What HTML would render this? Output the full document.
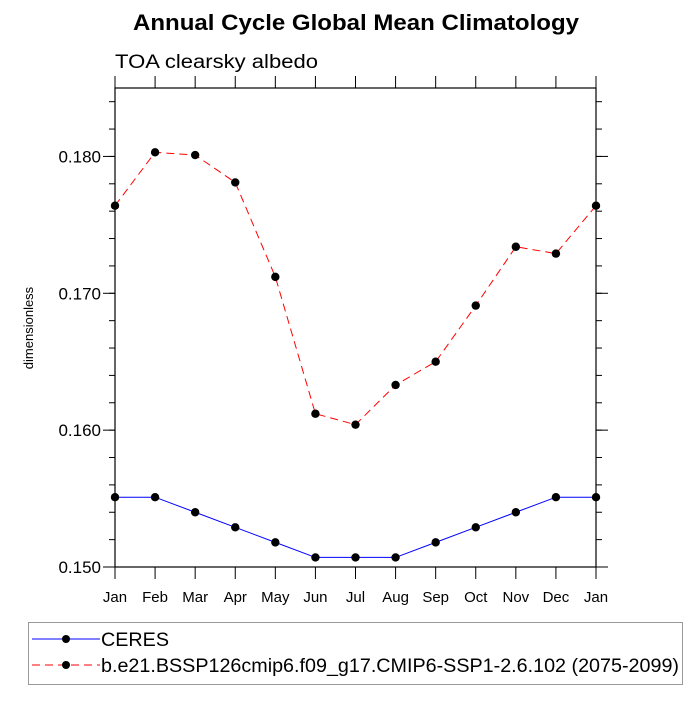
<!DOCTYPE html>
<html><head><meta charset="utf-8"><style>
body{margin:0;background:#fff;width:700px;height:700px;overflow:hidden}
svg{font-family:"Liberation Sans",sans-serif}
</style></head><body>
<svg id="chart" width="700" height="700" xmlns="http://www.w3.org/2000/svg">
<text x="133" y="30" font-size="22" font-weight="bold" textLength="446" lengthAdjust="spacingAndGlyphs">Annual Cycle Global Mean Climatology</text>
<text x="115" y="68" font-size="19" textLength="203" lengthAdjust="spacingAndGlyphs">TOA clearsky albedo</text>
<text transform="translate(33,328) rotate(-90)" text-anchor="middle" font-size="13">dimensionless</text>
<g id="axes"></g>
<g id="series"></g>
<g>
<rect x="28.5" y="622.5" width="654" height="62" fill="none" stroke="#999"/>
<line x1="32" y1="639" x2="100" y2="639" stroke="#0000ff" stroke-width="1"/>
<circle cx="66" cy="639" r="4" fill="#000"/>
<text x="101" y="646" font-size="19" textLength="68" lengthAdjust="spacingAndGlyphs">CERES</text>
<line x1="32" y1="665" x2="100" y2="665" stroke="#ff0000" stroke-width="1" stroke-dasharray="8,5"/>
<circle cx="66" cy="665" r="4" fill="#000"/>
<text x="101" y="672" font-size="19" textLength="578" lengthAdjust="spacingAndGlyphs">b.e21.BSSP126cmip6.f09_g17.CMIP6-SSP1-2.6.102 (2075-2099)</text>
</g>
</svg>
<script>
const months = ["Jan","Feb","Mar","Apr","May","Jun","Jul","Aug","Sep","Oct","Nov","Dec","Jan"];
const ceresValues = [0.1551,0.1551,0.1540,0.1529,0.1518,0.1507,0.1507,0.1507,0.1518,0.1529,0.1540,0.1551,0.1551];
const modelValues = [0.1764,0.1803,0.1801,0.1781,0.1712,0.1612,0.1604,0.1633,0.1650,0.1691,0.1734,0.1729,0.1764];
const yTicks = [0.150,0.160,0.170,0.180];
const yTickLabels = ["0.150","0.160","0.170","0.180"];
const yMin = 0.150, yMax = 0.185;
const L=115,R=596,T=88,B=567;
const NS="http://www.w3.org/2000/svg";
const xs=i=>L+(R-L)*i/(months.length-1);
const ys=v=>B-(B-T)*(v-yMin)/(yMax-yMin);
function mk(tag,attrs,parent){const e=document.createElementNS(NS,tag);for(const k in attrs)e.setAttribute(k,attrs[k]);parent.appendChild(e);return e;}
const ax=document.getElementById('axes');
const frame=mk('rect',{x:L,y:T,width:R-L,height:B-T,fill:'none',stroke:'#000','stroke-width':1.2},ax);


months.forEach((m,i)=>{
  const x=xs(i);
  mk('line',{x1:x,y1:B,x2:x,y2:B+12,stroke:'#000'},ax);
  mk('line',{x1:x,y1:T,x2:x,y2:T-12,stroke:'#000'},ax);
  const t=mk('text',{x:x,y:B+35,'text-anchor':'middle','font-size':15},ax);
  t.textContent=m;
  
  
});
for(let v=yMin;v<=yMax+1e-9;v+=0.002){
  const y=ys(v);
  mk('line',{x1:L,y1:y,x2:L-6,y2:y,stroke:'#000'},ax);
  mk('line',{x1:R,y1:y,x2:R+6,y2:y,stroke:'#000'},ax);
}
yTicks.forEach((v,i)=>{
  const y=ys(v);
  mk('line',{x1:L,y1:y,x2:L-12,y2:y,stroke:'#000'},ax);
  mk('line',{x1:R,y1:y,x2:R+12,y2:y,stroke:'#000'},ax);
  const t=mk('text',{x:L-14,y:y+6,'text-anchor':'end','font-size':17},ax);
  t.textContent=yTickLabels[i];
  
  
});
const sg=document.getElementById('series');
function drawSeries(vals,color,dash,name){
  const pts=vals.map((v,i)=>xs(i)+','+ys(v)).join(' ');
  const pl=mk('polyline',{points:pts,fill:'none',stroke:color,'stroke-width':1,'stroke-dasharray':dash},sg);
  
  
  vals.forEach((v,i)=>{
    const c=mk('circle',{cx:xs(i),cy:ys(v),r:4.2,fill:'#000'},sg);
    
    
  });
}
drawSeries(ceresValues,'#0000ff','none','ceres');
drawSeries(modelValues,'#ff0000','8,5','model');
</script>
</body></html>
